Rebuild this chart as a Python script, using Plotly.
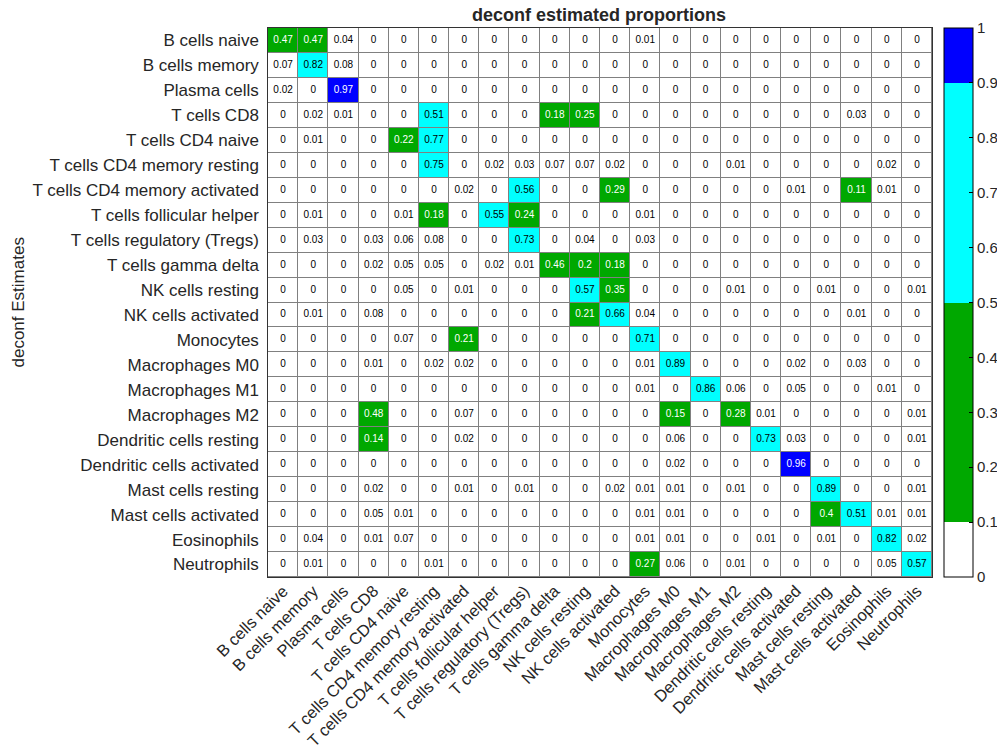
import plotly.graph_objects as go

cell_types = [
    "B cells naive", "B cells memory", "Plasma cells", "T cells CD8",
    "T cells CD4 naive", "T cells CD4 memory resting", "T cells CD4 memory activated",
    "T cells follicular helper", "T cells regulatory (Tregs)", "T cells gamma delta",
    "NK cells resting", "NK cells activated", "Monocytes", "Macrophages M0",
    "Macrophages M1", "Macrophages M2", "Dendritic cells resting",
    "Dendritic cells activated", "Mast cells resting", "Mast cells activated",
    "Eosinophils", "Neutrophils",
]

row_b_naive = [0.47, 0.47, 0.04, 0, 0, 0, 0, 0, 0, 0, 0, 0, 0.01, 0, 0, 0, 0, 0, 0, 0, 0, 0]
row_b_memory = [0.07, 0.82, 0.08, 0, 0, 0, 0, 0, 0, 0, 0, 0, 0, 0, 0, 0, 0, 0, 0, 0, 0, 0]
row_plasma = [0.02, 0, 0.97, 0, 0, 0, 0, 0, 0, 0, 0, 0, 0, 0, 0, 0, 0, 0, 0, 0, 0, 0]
row_cd8 = [0, 0.02, 0.01, 0, 0, 0.51, 0, 0, 0, 0.18, 0.25, 0, 0, 0, 0, 0, 0, 0, 0, 0.03, 0, 0]
row_cd4_naive = [0, 0.01, 0, 0, 0.22, 0.77, 0, 0, 0, 0, 0, 0, 0, 0, 0, 0, 0, 0, 0, 0, 0, 0]
row_cd4_mem_rest = [0, 0, 0, 0, 0, 0.75, 0, 0.02, 0.03, 0.07, 0.07, 0.02, 0, 0, 0, 0.01, 0, 0, 0, 0, 0.02, 0]
row_cd4_mem_act = [0, 0, 0, 0, 0, 0, 0.02, 0, 0.56, 0, 0, 0.29, 0, 0, 0, 0, 0, 0.01, 0, 0.11, 0.01, 0]
row_tfh = [0, 0.01, 0, 0, 0.01, 0.18, 0, 0.55, 0.24, 0, 0, 0, 0.01, 0, 0, 0, 0, 0, 0, 0, 0, 0]
row_treg = [0, 0.03, 0, 0.03, 0.06, 0.08, 0, 0, 0.73, 0, 0.04, 0, 0.03, 0, 0, 0, 0, 0, 0, 0, 0, 0]
row_gd = [0, 0, 0, 0.02, 0.05, 0.05, 0, 0.02, 0.01, 0.46, 0.2, 0.18, 0, 0, 0, 0, 0, 0, 0, 0, 0, 0]
row_nk_rest = [0, 0, 0, 0, 0.05, 0, 0.01, 0, 0, 0, 0.57, 0.35, 0, 0, 0, 0.01, 0, 0, 0.01, 0, 0, 0.01]
row_nk_act = [0, 0.01, 0, 0.08, 0, 0, 0, 0, 0, 0, 0.21, 0.66, 0.04, 0, 0, 0, 0, 0, 0, 0.01, 0, 0]
row_mono = [0, 0, 0, 0, 0.07, 0, 0.21, 0, 0, 0, 0, 0, 0.71, 0, 0, 0, 0, 0, 0, 0, 0, 0]
row_m0 = [0, 0, 0, 0.01, 0, 0.02, 0.02, 0, 0, 0, 0, 0, 0.01, 0.89, 0, 0, 0, 0.02, 0, 0.03, 0, 0]
row_m1 = [0, 0, 0, 0, 0, 0, 0, 0, 0, 0, 0, 0, 0.01, 0, 0.86, 0.06, 0, 0.05, 0, 0, 0.01, 0]
row_m2 = [0, 0, 0, 0.48, 0, 0, 0.07, 0, 0, 0, 0, 0, 0, 0.15, 0, 0.28, 0.01, 0, 0, 0, 0, 0.01]
row_dc_rest = [0, 0, 0, 0.14, 0, 0, 0.02, 0, 0, 0, 0, 0, 0, 0.06, 0, 0, 0.73, 0.03, 0, 0, 0, 0.01]
row_dc_act = [0, 0, 0, 0, 0, 0, 0, 0, 0, 0, 0, 0, 0, 0.02, 0, 0, 0, 0.96, 0, 0, 0, 0]
row_mast_rest = [0, 0, 0, 0.02, 0, 0, 0.01, 0, 0.01, 0, 0, 0.02, 0.01, 0.01, 0, 0.01, 0, 0, 0.89, 0, 0, 0.01]
row_mast_act = [0, 0, 0, 0.05, 0.01, 0, 0, 0, 0, 0, 0, 0, 0.01, 0.01, 0, 0, 0, 0, 0.4, 0.51, 0.01, 0.01]
row_eos = [0, 0.04, 0, 0.01, 0.07, 0, 0, 0, 0, 0, 0, 0, 0.01, 0.01, 0, 0, 0.01, 0, 0.01, 0, 0.82, 0.02]
row_neut = [0, 0.01, 0, 0, 0, 0.01, 0, 0, 0, 0, 0, 0, 0.27, 0.06, 0, 0.01, 0, 0, 0, 0, 0.05, 0.57]

z = [row_b_naive, row_b_memory, row_plasma, row_cd8, row_cd4_naive, row_cd4_mem_rest,
     row_cd4_mem_act, row_tfh, row_treg, row_gd, row_nk_rest, row_nk_act, row_mono,
     row_m0, row_m1, row_m2, row_dc_rest, row_dc_act, row_mast_rest, row_mast_act,
     row_eos, row_neut]

colorbar_ticks = [0, 0.1, 0.2, 0.3, 0.4, 0.5, 0.6, 0.7, 0.8, 0.9, 1]

WHITE, GREEN, CYAN, BLUE = "#ffffff", "#00a800", "#00ffff", "#0000ff"
colorscale = [[0, WHITE], [0.1, WHITE], [0.1, GREEN], [0.5, GREEN],
              [0.5, CYAN], [0.9, CYAN], [0.9, BLUE], [1, BLUE]]

FONT = "Liberation Sans, Arial, Helvetica, sans-serif"
TXT = "#262626"
n = len(cell_types)

W, H = 997, 750
L, T, PW, PH = 268, 28, 664, 549

fig = go.Figure()
fig.add_trace(go.Heatmap(
    z=z, x=cell_types, y=cell_types, zmin=0, zmax=1,
    colorscale=colorscale, xgap=1, ygap=1, hoverinfo="skip",
    colorbar=dict(
        x=1 + 12 / PW, xanchor="left", xpad=0, y=0.5, yanchor="middle", ypad=0,
        len=1, lenmode="fraction", thickness=29, thicknessmode="pixels",
        outlinecolor="black", outlinewidth=1,
        tickvals=colorbar_ticks, ticktext=[f"{t:g}" for t in colorbar_ticks],
        ticks="inside", ticklen=4, tickcolor="black",
        tickfont=dict(family=FONT, size=15, color=TXT),
    ),
))

xs, ys, texts, colors = [], [], [], []
for i, rname in enumerate(cell_types):
    for j, cname in enumerate(cell_types):
        v = z[i][j]
        xs.append(cname)
        ys.append(rname)
        texts.append(f"{v:g}")
        colors.append("white" if (0.1 <= v < 0.5 or v >= 0.9) else "black")

fig.add_trace(go.Scatter(
    x=xs, y=ys, mode="text", text=texts,
    textfont=dict(family=FONT, size=10, color=colors),
    hoverinfo="skip", showlegend=False,
))

fig.update_layout(
    width=W, height=H,
    margin=dict(l=L, r=W - L - PW, t=T, b=H - T - PH, autoexpand=False),
    paper_bgcolor="white", plot_bgcolor="#808080",
    font=dict(family=FONT, color=TXT),
    title=dict(text="<b>deconf estimated proportions</b>", x=599 / W, xanchor="center",
               y=1 - 15 / H, yanchor="middle", font=dict(size=18, color=TXT)),
    showlegend=False,
    annotations=[dict(text="deconf Estimates", xref="paper", yref="paper",
                      x=(18 - L) / PW, y=0.5, textangle=-90, showarrow=False,
                      xanchor="center", yanchor="middle",
                      font=dict(family=FONT, size=17, color=TXT))],
)
fig.update_xaxes(tickangle=-45, tickfont=dict(size=16.5, color=TXT), showline=True,
                 linecolor="#333", linewidth=1, mirror=True, showgrid=False,
                 zeroline=False, ticks="", automargin=False, range=[-0.5, n - 0.5],
                 ticklabelstandoff=-3)
fig.update_yaxes(tickfont=dict(size=17, color=TXT), showline=True,
                 linecolor="#333", linewidth=1, mirror=True, showgrid=False,
                 zeroline=False, ticks="", ticksuffix=" ", automargin=False,
                 range=[n - 0.5, -0.5])

fig.write_html(
    "out.html",
    config={"displayModeBar": False, "staticPlot": True},
    post_script="document.body.style.margin='0px';document.body.style.overflow='hidden';",
)
